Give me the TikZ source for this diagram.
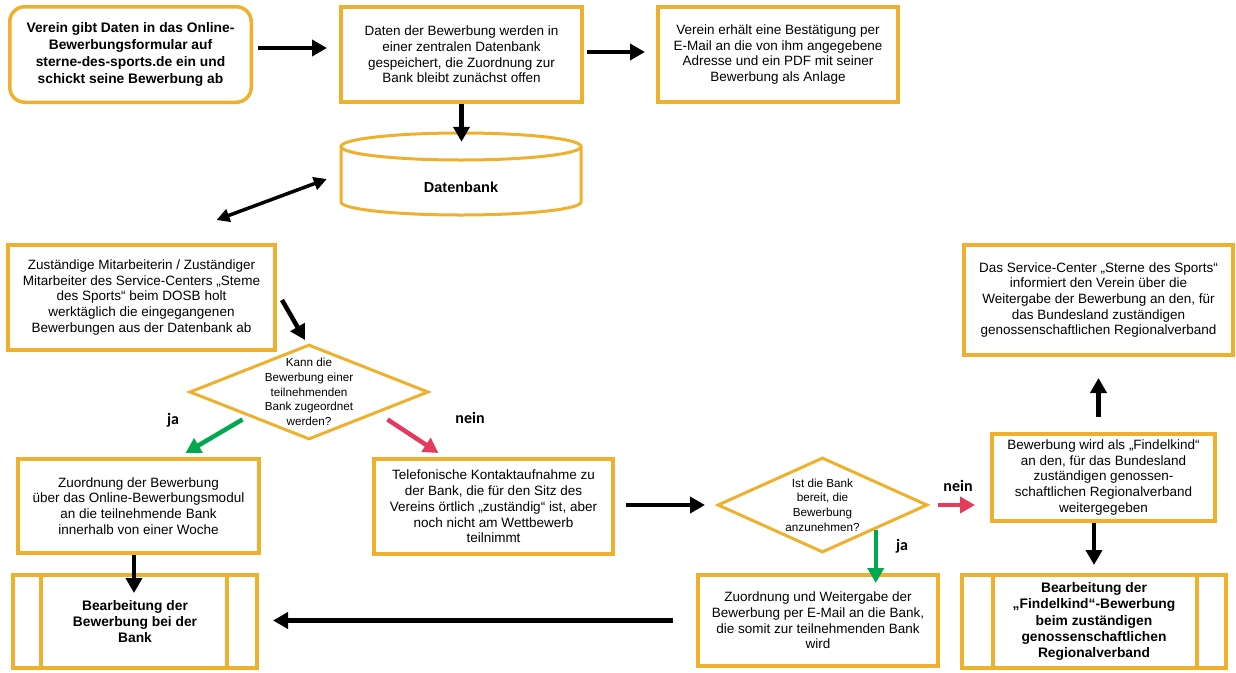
\documentclass[tikz,border=0pt]{standalone}
\usepackage{fontspec}
\setmainfont{Liberation Sans}
\newfontfamily\calfont{Carlito}
\usepackage{tikz,xcolor}
\usetikzlibrary{shapes.geometric,arrows.meta,calc}
\definecolor{gold}{RGB}{238,176,45}
\definecolor{jagreen}{RGB}{0,168,80}
\definecolor{neinred}{RGB}{228,58,92}

\begin{document}
\begin{tikzpicture}[x=1pt,y=-1pt,
    box/.style={draw=gold, line width=4pt, fill=white, align=center, inner sep=0pt,
        font=\fontsize{13.5}{15.7}\selectfont},
    rbox/.style={box, line width=3.5pt, rounded corners=15pt,
        font=\fontsize{13.8}{17.3}\selectfont\bfseries},
    bbox/.style={box, font=\fontsize{13.8}{16.4}\selectfont\bfseries},
    frage/.style={diamond, draw=gold, line width=3pt, fill=white, inner sep=0pt},
    ftext/.style={align=center, inner sep=0pt, font=\fontsize{11.7}{14.6}\selectfont},
    jn/.style={font=\fontsize{16}{16}\selectfont\calfont\bfseries, inner sep=0pt},
    arr/.style={-{Triangle[length=15pt,width=16pt]}, line width=4.5pt, black},
    garr/.style={arr, jagreen},
    rarr/.style={arr, neinred},
    dbl/.style={{Triangle[length=13pt,width=13pt]}-{Triangle[length=13pt,width=13pt]}, line width=3.5pt},
    cyl/.style={draw=gold, line width=3pt},
  ]
  \useasboundingbox (0,0) rectangle (1236,672);

  % obere Reihe
  \node[rbox, minimum width=241.5pt, minimum height=95.5pt] (verein) at (130.5,54.5)
    {Verein gibt Daten in das Online-\\Bewerbungsformular auf\\sterne-des-sports.de ein und\\schickt seine Bewerbung ab};
  \node[box, minimum width=241pt, minimum height=95pt] (daten) at (461.5,54.5)
    {Daten der Bewerbung werden in\\einer zentralen Datenbank\\gespeichert, die Zuordnung zur\\Bank bleibt zunächst offen};
  \node[box, minimum width=240pt, minimum height=95pt] (bestaet) at (778,54.5)
    {Verein erhält eine Bestätigung per\\E-Mail an die von ihm angegebene\\Adresse und ein PDF mit seiner\\Bewerbung als Anlage};

  % Datenbank
  \draw[cyl, fill=white] (341,146.5) -- (341,202) arc[start angle=180, end angle=360, x radius=120pt, y radius=13pt] -- (581,146.5);
  \draw[cyl, fill=white] (461,146.5) ellipse [x radius=120pt, y radius=13.5pt];
  \node[minimum width=240pt, minimum height=54pt, inner sep=0pt,
    font=\fontsize{14.5}{16}\selectfont\bfseries] (db) at (461,187) {Datenbank};

  % Service-Center
  \node[box, minimum width=267pt, minimum height=105pt] (mit) at (141.5,297.5)
    {Zuständige Mitarbeiterin / Zuständiger\\Mitarbeiter des Service-Centers „Steme\\des Sports“ beim DOSB holt\\werktäglich die eingegangenen\\Bewerbungen aus der Datenbank ab};

  \node[frage, minimum width=239pt, minimum height=95pt] (frage1) at (309,392) {};
  \node[ftext] (frage1text) at (frage1) {Kann die\\Bewerbung einer\\teilnehmenden\\Bank zugeordnet\\werden?};
  \node[jn] (ja1) at (173,420) {ja};
  \node[jn] (nein1) at (470,418) {nein};

  \node[box, minimum width=241pt, minimum height=94pt] (zuord) at (138.5,506)
    {Zuordnung der Bewerbung\\über das Online-Bewerbungsmodul\\an die teilnehmende Bank\\innerhalb von einer Woche};
  \node[box, minimum width=239pt, minimum height=95pt] (tel) at (493.5,506.5)
    {Telefonische Kontaktaufnahme zu\\der Bank, die für den Sitz des\\Vereins örtlich „zuständig“ ist, aber\\noch nicht am Wettbewerb\\teilnimmt};
  \node[bbox, minimum width=244pt, minimum height=93pt] (bank) at (135,621.5)
    {Bearbeitung der\\Bewerbung bei der\\Bank};
  \draw[gold, line width=4pt] (41,573) -- (41,670) (227,573) -- (227,670);

  % rechte Seite
  \node[frage, minimum width=210pt, minimum height=95pt] (frage2) at (822.5,505) {};
  \node[ftext] (frage2text) at (frage2) {Ist die Bank\\bereit, die\\Bewerbung\\anzunehmen?};
  \node[jn] (nein2) at (958,486) {nein};
  \node[jn] (ja2) at (902,546) {ja};

  \node[box, minimum width=240pt, minimum height=91pt] (weiter) at (818,620.5)
    {Zuordnung und Weitergabe der\\Bewerbung per E-Mail an die Bank,\\die somit zur teilnehmenden Bank\\wird};
  \node[box, minimum width=223pt, minimum height=87pt] (find) at (1103.5,477.5)
    {Bewerbung wird als „Findelkind“\\an den, für das Bundesland\\zuständigen genossen-\\schaftlichen Regionalverband\\weitergegeben};
  \node[box, minimum width=269pt, minimum height=110pt] (service) at (1098.5,300)
    {Das Service-Center „Sterne des Sports“\\informiert den Verein über die\\Weitergabe der Bewerbung an den, für\\das Bundesland zuständigen\\genossenschaftlichen Regionalverband};
  \node[bbox, minimum width=264pt, minimum height=93pt] (bearb2) at (1094,621.5)
    {Bearbeitung der\\„Findelkind“-Bewerbung\\beim zuständigen\\genossenschaftlichen\\Regionalverband};
  \draw[gold, line width=4pt] (993,573) -- (993,670) (1197,573) -- (1197,670);

  % Pfeile
  \draw[arr, shorten <=5pt, shorten >=12pt] ([yshift=6.5pt]verein.east) -- ([yshift=6.5pt]daten.west);
  \draw[arr, shorten <=3pt, shorten >=11pt] ([yshift=2.5pt]daten.east) -- ([yshift=2.5pt]bestaet.west);
  \draw[arr, shorten >=18pt] (daten.south) -- (daten.south |- db.north);
  \draw[dbl] ([shift={(-14,-8)}]db.west) -- ([shift={(75,-23)}]mit.north);
  \draw[arr] ([shift={(5,2.5)}]mit.east) -- ([shift={(-4,-3)}]frage1.north);
  \draw[garr] ([shift={(-6,3)}]frage1.south west) -- ([shift={(47,-4)}]zuord.north);
  \draw[rarr] ([shift={(18,3)}]frage1.south east) -- ([shift={(-55,-4)}]tel.north);
  \draw[arr] ([xshift=-4.5pt]zuord.south) -- ([shift={(-1,20)}]bank.north);
  \draw[arr, shorten <=11pt, shorten >=11pt] (tel.east |- frage2.west) -- (frage2.west);
  \draw[garr, shorten >=-10pt] (frage2.south east) -- (frage2.south east |- weiter.north);
  \draw[rarr, shorten <=9pt, shorten >=15pt] (frage2.east) -- (frage2.east -| find.west);
  \draw[arr, shorten <=15pt, shorten >=21pt] (service.south |- find.north) -- (service.south);
  \draw[arr, shorten >=8pt] (bearb2.north |- find.south) -- (bearb2.north);
  \draw[arr, shorten <=23pt, shorten >=14pt] (weiter.west) -- (weiter.west -| bank.east);
\end{tikzpicture}
\end{document}
